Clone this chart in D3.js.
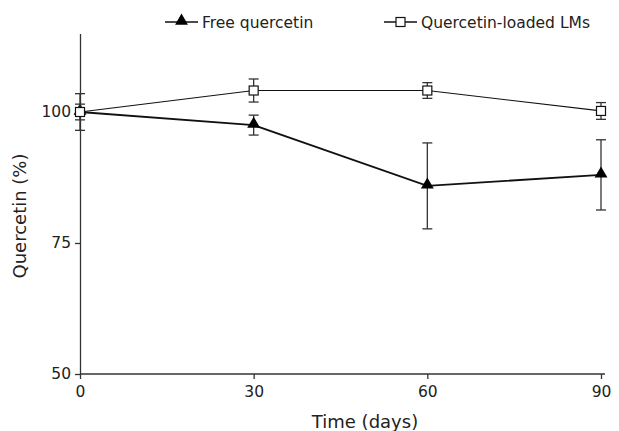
<!DOCTYPE html>
<html>
<head>
<meta charset="utf-8">
<script src="https://cdn.jsdelivr.net/npm/d3@7"></script>
<style>
  body { margin: 0; background: #fff; }
  text { font-family: "DejaVu Sans", Verdana, sans-serif; fill: #222; }
</style>
</head>
<body>
<div id="chart"></div>
<script>
// data
var days = [0, 30, 60, 90];
var freeMean = [100, 97.5, 85.9, 88.0];
var freeErr = [3.5, 1.9, 8.2, 6.7];
var lmsMean = [100, 104.1, 104.1, 100.2];
var lmsErr = [1.5, 2.2, 1.5, 1.6];
var yTicks = [50, 75, 100];
var xTicks = [0, 30, 60, 90];
var seriesNames = ["Free quercetin", "Quercetin-loaded LMs"];

var svgWidth = 619;
var svgHeight = 431;

var svg = d3.select("#chart")
  .append("svg")
  .attr("width", svgWidth)
  .attr("height", svgHeight);

// scales
var x = d3.scaleLinear().domain([0, 90]).range([80, 601]);
var y = d3.scaleLinear().domain([50, 115]).range([374, 33.4]);

// axes
var bottomAxis = d3.axisBottom(x).tickValues(xTicks).tickSize(5).tickPadding(7).tickSizeOuter(0);
var leftAxis = d3.axisLeft(y).tickValues(yTicks).tickSize(5).tickPadding(4).tickSizeOuter(0);

var xg = svg.append("g")
  .attr("transform", "translate(0,374)")
  .call(bottomAxis);
xg.select(".domain").attr("d", "M80,0H605");

var yg = svg.append("g")
  .attr("transform", "translate(80,0)")
  .call(leftAxis);

svg.selectAll(".domain, .tick line").attr("stroke", "#333").attr("stroke-width", 1.3);
svg.selectAll(".tick text").attr("font-size", "15.5px").attr("fill", "#222");

// axis titles
svg.append("text")
  .attr("x", 365)
  .attr("y", 428)
  .attr("text-anchor", "middle")
  .attr("font-size", "18px")
  .text("Time (days)");

svg.append("text")
  .attr("transform", "translate(26,216) rotate(-90)")
  .attr("text-anchor", "middle")
  .attr("font-size", "18px")
  .text("Quercetin (%)");

var line = d3.line()
  .x(function (d) { return x(d[0]); })
  .y(function (d) { return y(d[1]); });

function drawSeries(means, errs, width) {
  var pts = days.map(function (d, i) { return [d, means[i], errs[i]]; });
  var g = svg.append("g");
  g.append("path")
    .datum(pts)
    .attr("d", line)
    .attr("fill", "none")
    .attr("stroke", "#111")
    .attr("stroke-width", width);
  var eb = g.selectAll(".eb").data(pts).enter().append("g");
  eb.append("line")
    .attr("x1", function (d) { return x(d[0]); })
    .attr("x2", function (d) { return x(d[0]); })
    .attr("y1", function (d) { return y(d[1] + d[2]); })
    .attr("y2", function (d) { return y(d[1] - d[2]); })
    .attr("stroke", "#333").attr("stroke-width", 1.3);
  [1, -1].forEach(function (s) {
    eb.append("line")
      .attr("x1", function (d) { return x(d[0]) - 5; })
      .attr("x2", function (d) { return x(d[0]) + 5; })
      .attr("y1", function (d) { return y(d[1] + s * d[2]); })
      .attr("y2", function (d) { return y(d[1] + s * d[2]); })
      .attr("stroke", "#333").attr("stroke-width", 1.3);
  });
  return { g: g, pts: pts };
}

var tri = d3.symbol().type(d3.symbolTriangle).size(72);

var free = drawSeries(freeMean, freeErr, 1.8);
free.g.selectAll(".m").data(free.pts).enter().append("path")
  .attr("d", tri)
  .attr("transform", function (d) { return "translate(" + x(d[0]) + "," + (y(d[1]) - 1) + ")"; })
  .attr("fill", "#000");

var lms = drawSeries(lmsMean, lmsErr, 1.2);
lms.g.selectAll(".m").data(lms.pts).enter().append("rect")
  .attr("x", function (d) { return x(d[0]) - 4.5; })
  .attr("y", function (d) { return y(d[1]) - 4.5; })
  .attr("width", 9)
  .attr("height", 9)
  .attr("fill", "#fff")
  .attr("stroke", "#111")
  .attr("stroke-width", 1.2);

// legend
var legend = svg.append("g");
var lx = [165, 384];
seriesNames.forEach(function (name, i) {
  var g = legend.append("g").attr("transform", "translate(" + lx[i] + ",22)");
  g.append("line").attr("x1", 0).attr("x2", 33).attr("y1", 0).attr("y2", 0)
    .attr("stroke", "#111").attr("stroke-width", 1.3);
  if (i === 0) {
    g.append("path").attr("d", tri).attr("transform", "translate(16.5,-1)").attr("fill", "#000");
  } else {
    g.append("rect").attr("x", 12).attr("y", -4.5).attr("width", 9).attr("height", 9)
      .attr("fill", "#fff").attr("stroke", "#111").attr("stroke-width", 1.2);
  }
  g.append("text").attr("x", 37).attr("y", 5.5).attr("font-size", "15.5px").text(name);
});
</script>
</body>
</html>
